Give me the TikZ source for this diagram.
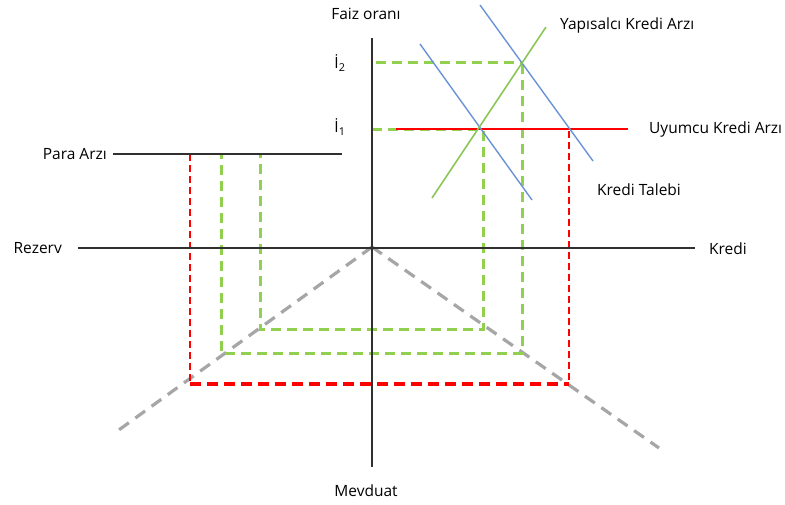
\documentclass[tikz,border=0pt]{standalone}
\usepackage{fontspec}
\setmainfont{Open Sans}
\definecolor{axisc}{HTML}{303030}
\definecolor{lgreen}{HTML}{92D050}
\definecolor{sgreen}{HTML}{8CC65A}
\definecolor{lblue}{HTML}{6A93D6}
\definecolor{lgray}{HTML}{A6A6A6}
\begin{document}
\begin{tikzpicture}[x=1pt,y=-1pt,
  lbl/.style={font=\fontsize{15.5}{18}\selectfont, inner sep=1pt},
  axisline/.style={axisc, line width=1.5pt},
  gdash/.style={lgreen, line width=3pt, dash pattern=on 10pt off 6pt},
  rdashthin/.style={red, line width=1.5pt, dash pattern=on 7pt off 4pt},
  rdashthick/.style={red, line width=3.2pt, dash pattern=on 11pt off 6pt},
  graydash/.style={lgray, line width=3.2pt, dash pattern=on 12pt off 8pt},
  bluel/.style={lblue, line width=1.4pt},
  supl/.style={sgreen, line width=1.6pt},
  redl/.style={red, line width=1.2pt}]
\useasboundingbox (0,0) rectangle (785,504);
% coordinates
\coordinate (vtop) at (372,38);
\coordinate (vbot) at (372,467);
\coordinate (hl) at (78,248);
\coordinate (hr) at (695,248);
\coordinate (pl) at (113,154);
\coordinate (pr) at (342,154);
\coordinate (apex) at (372,247);
\coordinate (gl) at (116,432);
\coordinate (gr) at (659,448);
\coordinate (i2s) at (376,62);
\coordinate (E2) at (522,62);
\coordinate (i1s) at (372,129);
\coordinate (E1) at (481,129);
\coordinate (rs) at (396,129);
\coordinate (re) at (628,129);
\coordinate (b1a) at (420,44);
\coordinate (b1b) at (532,200);
\coordinate (b2a) at (480,5);
\coordinate (b2b) at (593,161);
\coordinate (sa) at (432,198);
\coordinate (sb) at (546,27);
\coordinate (ig1) at (483,131);
\coordinate (ig2) at (483,329);
\coordinate (il) at (260,329);
\coordinate (ilt) at (260,154);
\coordinate (og1) at (522,64);
\coordinate (og2) at (522,353);
\coordinate (ol) at (221,353);
\coordinate (olt) at (221,154);
\coordinate (rv1) at (569,131);
\coordinate (rv2) at (569,384);
\coordinate (rl) at (190,384);
\coordinate (rlt) at (190,154);

% gray diagonal lines
\draw[graydash] (apex) -- (gl);
\draw[graydash] (apex) -- (gr);

% green dashed projections
\draw[gdash] (i2s) -- (E2);
\draw[gdash] (i1s) -- (E1);
\draw[gdash] (og1) -- (og2) -- (ol) -- (olt);
\draw[gdash] (ig1) -- (ig2) -- (il) -- (ilt);

% red dashed projections
\draw[rdashthin] (rv1) -- (rv2);
\draw[rdashthin] (rlt) -- (rl);
\draw[rdashthick] (rl) -- (rv2);

% axes
\draw[axisline] (vtop) -- (vbot);
\draw[axisline, line width=1.4pt] (hl) -- (hr);
\draw[axisline, line width=1.4pt] (pl) -- (pr);

% curves
\draw[redl] (rs) -- (re);
\draw[bluel] (b1a) -- (b1b);
\draw[bluel] (b2a) -- (b2b);
\draw[supl] (sa) -- (sb);

% labels
\node[lbl] (faiz) at (366,14) {Faiz oranı};
\node[lbl] (i2) at (340,63) {İ\textsubscript{2}};
\node[lbl] (i1) at (340,127) {İ\textsubscript{1}};
\node[lbl, anchor=east] (para) at (108,154) {Para Arzı};
\node[lbl, anchor=east] (rez) at (63,248) {Rezerv};
\node[lbl, anchor=west] (kredi) at (708,249) {Kredi};
\node[lbl] (mev) at (366,491) {Mevduat};
\node[lbl, anchor=west] (yap) at (559,25) {Yapısalcı Kredi Arzı};
\node[lbl, anchor=west] (uyum) at (648,129) {Uyumcu Kredi Arzı};
\node[lbl, anchor=west] (talep) at (596,190) {Kredi Talebi};
\end{tikzpicture}
\end{document}
